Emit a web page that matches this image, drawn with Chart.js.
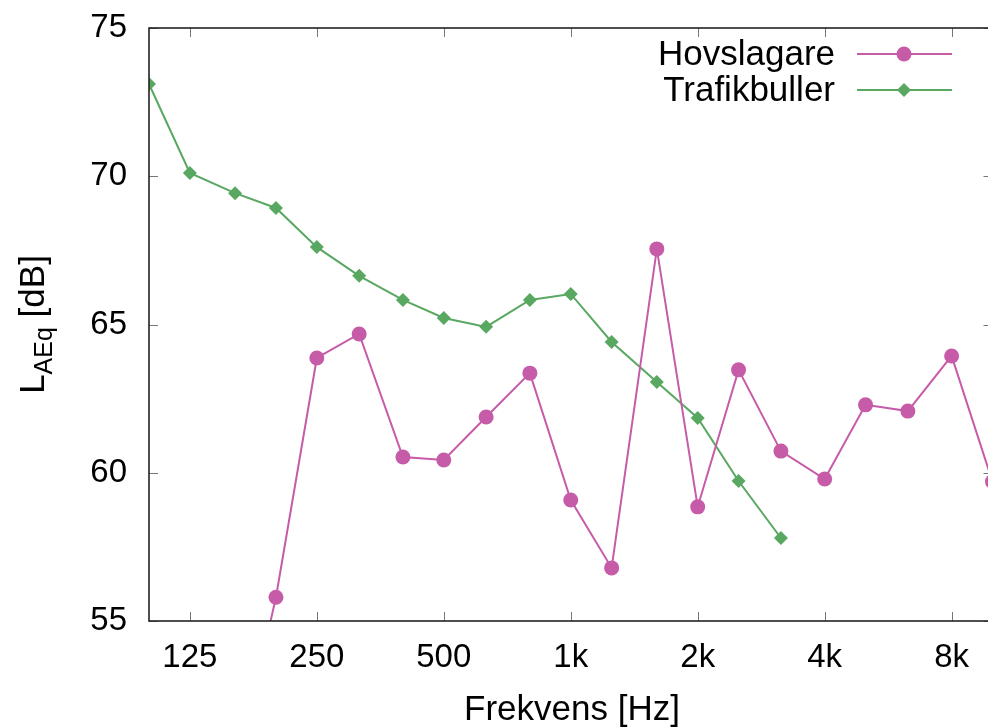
<!DOCTYPE html>
<html>
<head>
<meta charset="utf-8">
<script src="https://cdn.jsdelivr.net/npm/chart.js@4/dist/chart.umd.min.js"></script>
<style>
  html, body { margin: 0; padding: 0; background: #fff; overflow: hidden; }
  #wrap { position: absolute; left: 0; top: 0; width: 1000px; height: 727px; }
</style>
</head>
<body>
<div id="wrap"><canvas id="lautChart"></canvas></div>
<script>
// third-octave band centre frequencies [Hz]
const bands = [100, 125, 160, 200, 250, 315, 400, 500, 630, 800, 1000,
               1250, 1600, 2000, 2500, 3150, 4000, 5000, 6300, 8000, 10000];
const hovslagare = [null, null, 49.7, 55.8, 63.87, 64.68, 60.53, 60.43, 61.88, 63.36, 59.08,
                    56.79, 67.55, 58.85, 63.47, 60.73, 59.79, 62.29, 62.08, 63.94, 59.7];
const trafikbuller = [73.11, 70.11, 69.43, 68.93, 67.61, 66.64, 65.83, 65.22, 64.92, 65.83, 66.03,
                      64.41, 63.06, 61.85, 59.72, 57.8, null, null, null, null, null];
const xTickValues = [125, 250, 500, 1000, 2000, 4000, 8000];
const xTickLabels = ['125', '250', '500', '1k', '2k', '4k', '8k'];
const yTickValues = [55, 60, 65, 70, 75];

const FONT = "'Liberation Sans', Arial, sans-serif";
const pink = '#c65ba8';
const green = '#59a862';

const toPoints = vals => bands.map((f, i) => ({ x: f, y: vals[i] }));

// gnuplot style frame: border box with inward ticks, plus axis titles
const framePlugin = {
    id: 'frame',
    afterDatasetsDraw(chart) {
        const { ctx, chartArea: a, scales: { x, y } } = chart;
        ctx.save();
        ctx.strokeStyle = '#777';
        ctx.lineWidth = 1;
        ctx.beginPath();
        xTickValues.forEach(v => {
            const px = Math.round(x.getPixelForValue(v)) + 0.5;
            ctx.moveTo(px, a.bottom); ctx.lineTo(px, a.bottom - 9);
            ctx.moveTo(px, a.top); ctx.lineTo(px, a.top + 9);
        });
        yTickValues.forEach(v => {
            const py = Math.round(y.getPixelForValue(v)) + 0.5;
            ctx.moveTo(a.left, py); ctx.lineTo(a.left + 9, py);
            ctx.moveTo(a.right, py); ctx.lineTo(a.right - 9, py);
        });
        ctx.stroke();
        ctx.strokeStyle = '#222';
        ctx.lineWidth = 1.6;
        ctx.strokeRect(a.left, a.top, a.right - a.left, a.bottom - a.top);

        // axis titles
        ctx.fillStyle = '#000';
        ctx.font = `35px ${FONT}`;
        ctx.textAlign = 'center';
        ctx.textBaseline = 'alphabetic';
        ctx.fillText('Frekvens [Hz]', 572, 720);

        ctx.translate(44, (a.top + a.bottom) / 2);
        ctx.rotate(-Math.PI / 2);
        const big = `35px ${FONT}`, small = `25px ${FONT}`;
        ctx.font = big; const wL = ctx.measureText('L').width;
        ctx.font = small; const wSub = ctx.measureText('AEq').width;
        ctx.font = big; const wRest = ctx.measureText(' [dB]').width;
        let cx = -(wL + wSub + wRest) / 2;
        ctx.textAlign = 'left';
        ctx.font = big; ctx.fillText('L', cx, 0); cx += wL;
        ctx.font = small; ctx.fillText('AEq', cx, 8); cx += wSub;
        ctx.font = big; ctx.fillText(' [dB]', cx, 0);
        ctx.restore();
    }
};

// key in the upper right, text left of the sample
const keyPlugin = {
    id: 'key',
    afterDraw(chart) {
        const { ctx } = chart;
        ctx.save();
        chart.data.datasets.forEach((ds, i) => {
            const yy = 54 + i * 36;
            ctx.fillStyle = '#000';
            ctx.font = `35px ${FONT}`;
            ctx.textAlign = 'right';
            ctx.textBaseline = 'middle';
            ctx.fillText(ds.label, 835, yy + 1);
            ctx.strokeStyle = ds.borderColor;
            ctx.lineWidth = ds.borderWidth;
            ctx.beginPath();
            ctx.moveTo(857, yy); ctx.lineTo(952, yy);
            ctx.stroke();
            ctx.fillStyle = ds.pointBackgroundColor;
            Chart.helpers.drawPoint(ctx, {
                pointStyle: ds.pointStyle, radius: ds.pointRadius,
                rotation: 0, borderWidth: 0
            }, 904, yy);
        });
        ctx.restore();
    }
};

new Chart(document.getElementById('lautChart'), {
    type: 'line',
    data: {
        datasets: [{
            label: 'Hovslagare',
            data: toPoints(hovslagare),
            borderColor: pink,
            backgroundColor: pink,
            pointBackgroundColor: pink,
            pointBorderWidth: 0,
            pointStyle: 'circle',
            pointRadius: 7.5,
            borderWidth: 2,
            clip: 0
        }, {
            label: 'Trafikbuller',
            data: toPoints(trafikbuller),
            borderColor: green,
            backgroundColor: green,
            pointBackgroundColor: green,
            pointBorderWidth: 0,
            pointStyle: 'rectRot',
            pointRadius: 7,
            borderWidth: 2
        }]
    },
    options: {
        responsive: true,
        maintainAspectRatio: false,
        animation: false,
        layout: { padding: { top: 28, right: 5, left: 0, bottom: 0 } },
        scales: {
            x: {
                type: 'logarithmic',
                min: 100,
                max: 10000,
                grid: { display: false, drawTicks: false },
                border: { display: false },
                afterBuildTicks: s => { s.ticks = xTickValues.map(v => ({ value: v })); },
                afterFit: s => { s.height = 106; s.paddingLeft = 0; s.paddingRight = 0; },
                ticks: {
                    autoSkip: false,
                    maxRotation: 0,
                    padding: 17,
                    color: '#000',
                    font: { family: FONT, size: 33 },
                    callback: v => xTickLabels[xTickValues.indexOf(v)]
                }
            },
            y: {
                min: 55,
                max: 75,
                grid: { display: false, drawTicks: false },
                border: { display: false },
                afterBuildTicks: s => { s.ticks = yTickValues.map(v => ({ value: v })); },
                afterFit: s => { s.width = 149; s.paddingTop = 0; s.paddingBottom = 0; },
                ticks: {
                    padding: 22,
                    color: '#000',
                    font: { family: FONT, size: 33 }
                }
            }
        },
        plugins: {
            legend: { display: false },
            tooltip: { enabled: false }
        }
    },
    plugins: [framePlugin, keyPlugin]
});
</script>
</body>
</html>
